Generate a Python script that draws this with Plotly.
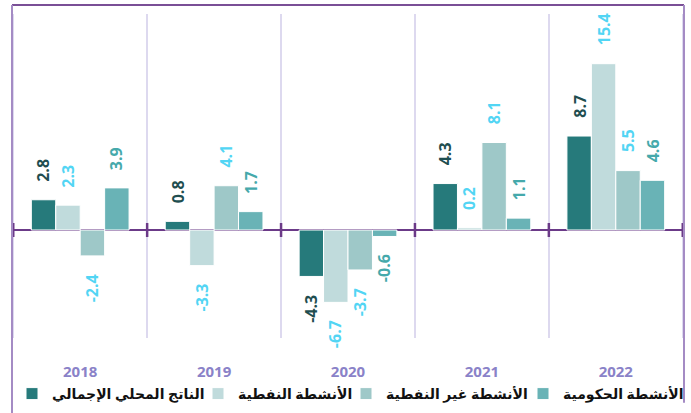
import plotly.graph_objects as go

years = ["2018", "2019", "2020", "2021", "2022"]
series_names = ["الناتج المحلي الإجمالي", "الأنشطة النفطية", "الأنشطة غير النفطية", "الأنشطة الحكومية"]
gdp = [2.8, 0.8, -4.3, 4.3, 8.7]
oil = [2.3, -3.3, -6.7, 0.2, 15.4]
non_oil = [-2.4, 4.1, -3.7, 8.1, 5.5]
gov = [3.9, 1.7, -0.6, 1.1, 4.6]

series_values = [gdp, oil, non_oil, gov]
bar_colors = ["#267A7B", "#C0DBDC", "#9EC8C8", "#69B3B6"]
label_colors = ["#1F4E50", "#52D5F4", "#52D5F4", "#45A9AB"]

BARGAP = 0.27
W, H = 691, 413
ML, MR, MT, MB = 12, 7, 14, 75
plot_w = W - ML - MR
plot_h = H - MT - MB

# left pixel of each legend entry (one legend per series)
legend_px = [12, 198, 346, 523]
legend_ids = ["legend", "legend2", "legend3", "legend4"]

fig = go.Figure()
for name, vals, col, lid in zip(series_names, series_values, bar_colors, legend_ids):
    fig.add_bar(x=years, y=vals, name=name, legend=lid,
                marker=dict(color=col, line=dict(color="white", width=1)))

bw = (1 - BARGAP) / len(series_values)
annotations = []
for i, (vals, lc) in enumerate(zip(series_values, label_colors)):
    for j, v in enumerate(vals):
        pos = v >= 0
        annotations.append(dict(
            x=j + (i - (len(series_values) - 1) / 2) * bw, y=v, xref="x", yref="y",
            text=f"{v:.1f}", showarrow=False, textangle=-90,
            xanchor="center", yanchor="bottom" if pos else "top",
            yshift=16 if pos else -16,
            font=dict(family="Open Sans", size=16, color=lc, weight="bold"),
        ))

shapes = []
# ticks across the zero line at category boundaries
for k in range(len(years) + 1):
    b = k - 0.5
    shapes.append(dict(type="line", xref="x", yref="y", x0=b, x1=b, y0=-0.65, y1=0.65,
                       line=dict(color="#6B3A88", width=2.5), layer="above"))
# outer frame
top_y = 1 + 9 / plot_h
bot_y = -(H - MT - plot_h) / plot_h
shapes += [
    dict(type="line", xref="paper", yref="paper", x0=0, x1=1, y0=top_y, y1=top_y,
         line=dict(color="#7A4F96", width=2)),
    dict(type="line", xref="paper", yref="paper", x0=0, x1=0, y0=bot_y, y1=top_y,
         line=dict(color="#A48BC4", width=2)),
    dict(type="line", xref="paper", yref="paper", x0=1, x1=1, y0=-0.2, y1=top_y,
         line=dict(color="#A48BC4", width=2)),
]

legend_font = dict(family="Open Sans, DejaVu Sans", size=14, color="#111111", weight="bold")
legend_layouts = {}
for lid, px in zip(legend_ids, legend_px):
    legend_layouts[lid] = dict(
        orientation="h", x=(px - ML) / plot_w, xanchor="left",
        y=-(394 - (H - MB)) / plot_h, yanchor="middle",
        font=legend_font, bgcolor="rgba(0,0,0,0)", itemwidth=30,
    )

fig.update_layout(
    width=W, height=H,
    margin=dict(l=ML, r=MR, t=MT, b=MB, autoexpand=False),
    paper_bgcolor="white", plot_bgcolor="white",
    barmode="group", bargap=BARGAP, bargroupgap=0,
    showlegend=True,
    annotations=annotations,
    shapes=shapes,
    xaxis=dict(type="category", tickson="boundaries", showgrid=True, gridcolor="#DDD9EF",
               gridwidth=1.5, ticks="", showline=False, zeroline=False, automargin=False,
               tickfont=dict(family="Open Sans", size=15, color="#8A82C8", weight="bold"),
               ticklabelstandoff=23),
    yaxis=dict(range=[-10, 20], showgrid=False, showticklabels=False, ticks="",
               automargin=False,
               zeroline=True, zerolinecolor="#6B3A88", zerolinewidth=2),
    **legend_layouts,
)

fig.write_html("out.html", config={"displayModeBar": False},
               post_script="document.body.style.margin='0';")
